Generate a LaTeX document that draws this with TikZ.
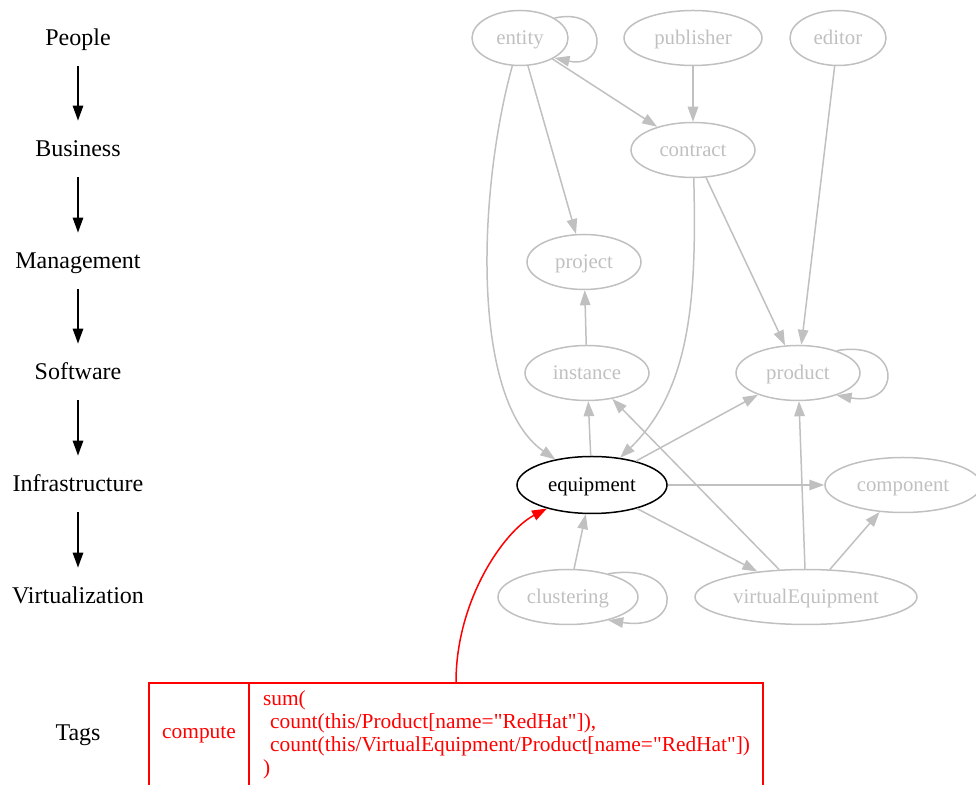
\documentclass[tikz,border=0pt]{standalone}
\usepackage{fontspec}
\setmainfont{Liberation Serif}[Ligatures=TeXOff]
\usetikzlibrary{arrows.meta, shapes.geometric}
\definecolor{edgegray}{RGB}{192,192,192}

\begin{document}
\begin{tikzpicture}[x=0.5pt, y=-0.5pt,
	layer/.style={inner sep=0pt, minimum height=28pt, text height=10.5pt, text depth=2.5pt, font=\fontsize{12}{14}\selectfont},
	cls/.style={draw=edgegray, text=edgegray, ellipse, inner sep=0pt, minimum height=27.5pt, text height=8.8pt, text depth=2pt, line width=0.75pt, font=\fontsize{10.4}{12}\selectfont},
	flow/.style={line width=0.75pt, -{Triangle[length=7.5pt, width=5.25pt]}},
	edge/.style={flow, draw=edgegray},
	tagcell/.style={draw=red, text=red, line width=0.75pt, minimum height=52pt, inner sep=0pt, font=\fontsize{10.7}{11.5}\selectfont}]
	\useasboundingbox (0,0) rectangle (976,785);
	% Couches
	\node[layer] (people) at (78,38) {People};
	\node[layer] (business) at (78,149) {Business};
	\node[layer] (management) at (78,261) {Management};
	\node[layer] (software) at (78,372) {Software};
	\node[layer] (infrastructure) at (78,484) {Infrastructure};
	\node[layer] (virtualization) at (78,596) {Virtualization};
	\node[layer] (tags) at (78,733) {Tags};
	\draw[flow] (people) -- (business);
	\draw[flow] (business) -- (management);
	\draw[flow] (management) -- (software);
	\draw[flow] (software) -- (infrastructure);
	\draw[flow] (infrastructure) -- (virtualization);
	% Classes
	\node[cls, minimum width=48pt] (entity) at (520,38) {entity};
	\node[cls, minimum width=69pt] (publisher) at (693,38) {publisher};
	\node[cls, minimum width=48pt] (editor) at (838,38) {editor};
	\node[cls, minimum width=62pt] (contract) at (693,150) {contract};
	\node[cls, minimum width=57pt] (project) at (584,262) {project};
	\node[cls, minimum width=62pt] (instance) at (587,373) {instance};
	\node[cls, minimum width=62pt] (product) at (798,373) {product};
	\node[cls, minimum width=75pt, minimum height=28.5pt, draw=black, text=black] (equipment) at (592,485) {equipment};
	\node[cls, minimum width=78pt] (component) at (903,485) {component};
	\node[cls, minimum width=70pt] (clustering) at (568,597) {clustering};
	\node[cls, minimum width=111pt] (virtualEquipment) at (806,597) {virtualEquipment};
	\draw[edge] (entity.30) .. controls +(54,-12) and +(54,12) .. (entity.-30);
	\draw[edge] (entity) -- (contract);
	\draw[edge] (entity) -- (project);
	\draw[edge] (entity) .. controls (478,190) and (470,400) .. (equipment);
	\draw[edge] (publisher) -- (contract);
	\draw[edge] (editor) -- (product);
	\draw[edge] (contract) -- (product);
	\draw[edge] (contract) .. controls (697,300) and (690,390) .. (equipment);
	\draw[edge] (instance) -- (project);
	\draw[edge] (equipment) -- (instance);
	\draw[edge] (equipment) -- (product);
	\draw[edge] (product.30) .. controls +(66,-12) and +(66,12) .. (product.-30);
	\draw[edge] (equipment) -- (component);
	\draw[edge] (equipment) -- (virtualEquipment);
	\draw[edge] (virtualEquipment) -- (instance);
	\draw[edge] (virtualEquipment) -- (product);
	\draw[edge] (virtualEquipment) -- (component);
	\draw[edge] (clustering) -- (equipment);
	\draw[edge] (clustering.30) .. controls +(76,-12) and +(76,12) .. (clustering.-30);
	% Tags
	\node[tagcell, minimum width=50pt] (tagkey) at (199,735) {compute};
	\node[tagcell, minimum width=257pt, text width=243pt, align=left] (tagcode) at (506,735) {sum(\\
		~count(this/Product[name="RedHat"]),\\
		~count(this/VirtualEquipment/Product[name="RedHat"])\\
		)};
	\draw[flow, draw=red] ([xshift=-25pt]tagcode.north) .. controls (456,600) and (504,531) .. (equipment);
\end{tikzpicture}
\end{document}
